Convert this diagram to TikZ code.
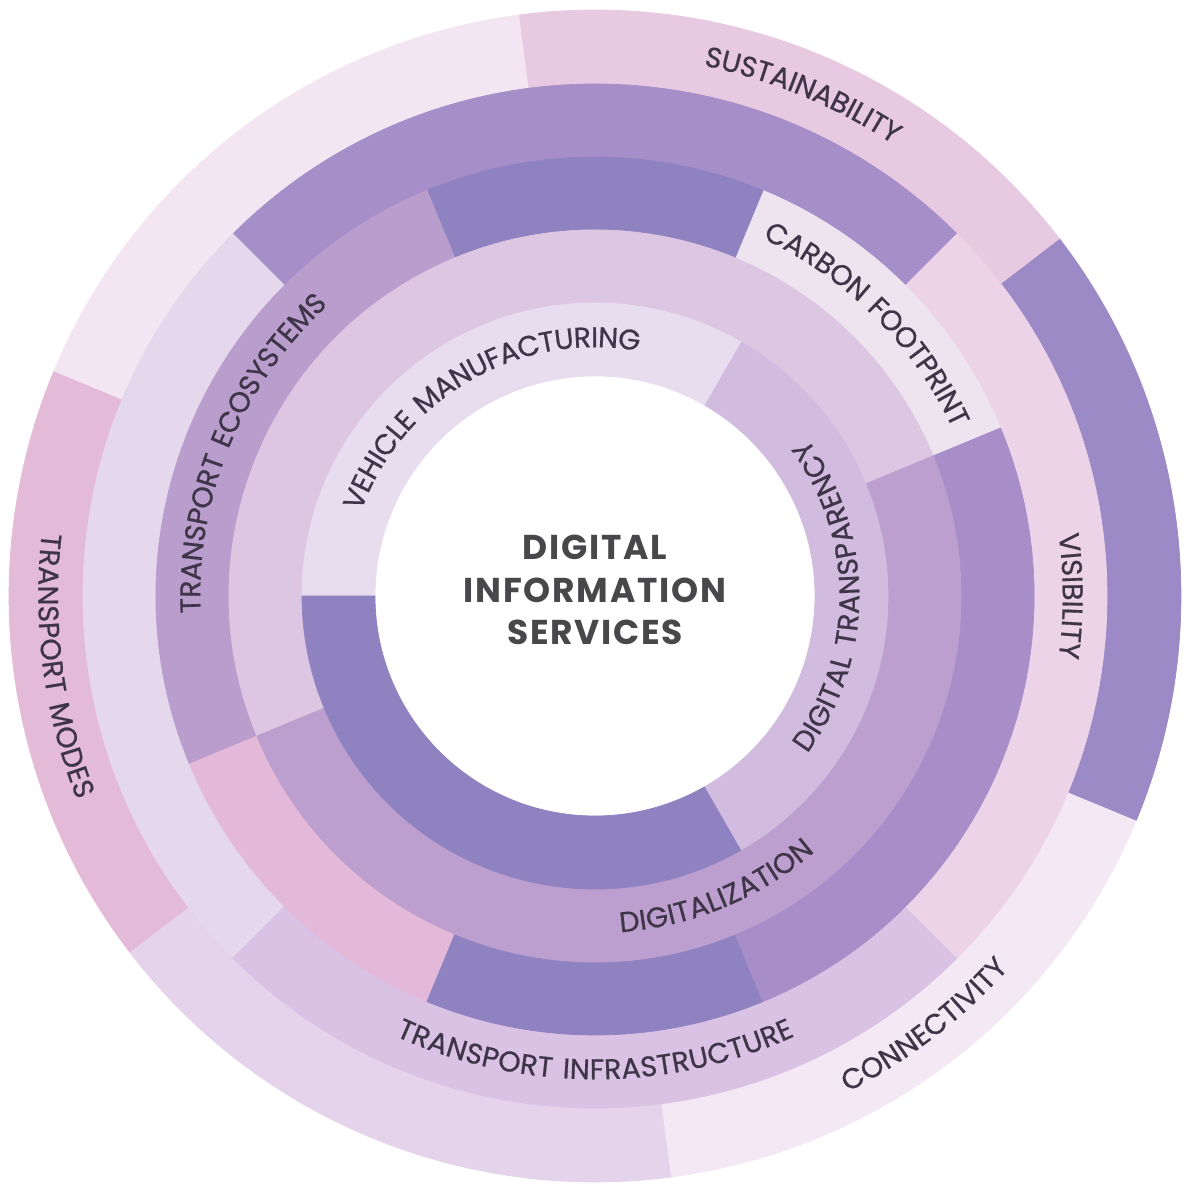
\documentclass[tikz,border=0pt]{standalone}
\usepackage{fontspec}
\setmainfont{Poppins}
\newfontfamily\ringfont[LetterSpace=9,FakeBold=0.7]{Poppins}
\newfontfamily\hubfont[LetterSpace=5]{Poppins}
\usetikzlibrary{decorations.text}

\definecolor{ink}{HTML}{3F3548}
\definecolor{hubink}{HTML}{48484A}
% outer ring
\definecolor{sustain}{HTML}{E7C9E1}
\definecolor{paleA}{HTML}{F3E6F2}
\definecolor{modes}{HTML}{E4BAD9}
\definecolor{lilacE}{HTML}{E4D3EB}
\definecolor{connect}{HTML}{F3E8F3}
\definecolor{visdark}{HTML}{9B8AC6}
% fourth ring
\definecolor{topband}{HTML}{A68EC8}
\definecolor{lilacD}{HTML}{E5D7EC}
\definecolor{infra}{HTML}{D9C2E3}
\definecolor{vispink}{HTML}{ECD3E8}
% third ring
\definecolor{deep}{HTML}{8F82C1}
\definecolor{ecosys}{HTML}{B89DCD}
\definecolor{rose}{HTML}{E3B8D8}
\definecolor{midpurple}{HTML}{A78EC9}
\definecolor{carbon}{HTML}{EEE4F0}
% second ring
\definecolor{lilacB}{HTML}{DDC6E2}
\definecolor{digi}{HTML}{BC9FCE}
% inner ring
\definecolor{vehicle}{HTML}{E8DDEF}
\definecolor{transp}{HTML}{D1BBDF}

% ring segment: start angle, end angle, inner radius, outer radius, colour
\newcommand{\ringseg}[5]{%
  \filldraw[fill=#5,draw=#5,line width=0.2pt] (#1:#3) arc[start angle=#1,end angle=#2,radius=#3]
    -- (#2:#4) arc[start angle=#2,end angle=#1,radius=#4] -- cycle;}

\begin{document}
\begin{tikzpicture}[
    ringlabel/.style={decorate,decoration={text along path,text align=center,raise=-2.2pt,
      text={|\ringfont\fontsize{8.1}{9}\selectfont\color{ink}|#1}}}]
  \useasboundingbox (-5.95,-5.91) rectangle (5.97,5.96);

  % outer ring
  \foreach \a/\b/\c in {37.5/97.5/sustain, 97.5/157.5/paleA, 157.5/217.5/modes,
                        217.5/277.5/lilacE, 277.5/337.5/connect, 337.5/397.5/visdark}
    {\ringseg{\a}{\b}{5.12}{5.86}{\c}}
  % fourth ring
  \foreach \a/\b/\c in {45/135/topband, 135/225/lilacD, 225/315/infra, 315/405/vispink}
    {\ringseg{\a}{\b}{4.39}{5.12}{\c}}
  % third ring
  \foreach \a/\b/\c in {22.5/67.5/carbon, 67.5/112.5/deep, 112.5/202.5/ecosys,
                        202.5/247.5/rose, 247.5/292.5/deep, 292.5/382.5/midpurple}
    {\ringseg{\a}{\b}{3.66}{4.39}{\c}}
  % second ring
  \foreach \a/\b/\c in {22.5/202.5/lilacB, 202.5/382.5/digi}
    {\ringseg{\a}{\b}{2.93}{3.66}{\c}}
  % inner ring
  \foreach \a/\b/\c in {60/180/vehicle, 180/300/deep, 300/420/transp}
    {\ringseg{\a}{\b}{2.20}{2.93}{\c}}

  % labels, clockwise ones read with tops outward
  \path[ringlabel={SUSTAINABILITY}] (97.5:5.49) arc[start angle=97.5,end angle=37.5,radius=5.49];
  \path[ringlabel={VISIBILITY}] (45:4.755) arc[start angle=45,end angle=-45,radius=4.755];
  \path[ringlabel={CARBON FOOTPRINT}] (85:4.025) arc[start angle=85,end angle=5,radius=4.025];
  \path[ringlabel={TRANSPORT ECOSYSTEMS}] (225:4.025) arc[start angle=225,end angle=90,radius=4.025];
  \path[ringlabel={VEHICLE MANUFACTURING}] (210:2.565) arc[start angle=210,end angle=30,radius=2.565];
  % counter-clockwise ones read with tops inward
  \path[ringlabel={CONNECTIVITY}] (-87.5:5.49) arc[start angle=-87.5,end angle=-17.5,radius=5.49];
  \path[ringlabel={TRANSPORT MODES}] (140:5.49) arc[start angle=140,end angle=235,radius=5.49];
  \path[ringlabel={TRANSPORT INFRASTRUCTURE}] (210:4.755) arc[start angle=210,end angle=330,radius=4.755];
  \path[ringlabel={DIGITALIZATION}] (242.5:3.295) arc[start angle=242.5,end angle=342.5,radius=3.295];
  \path[ringlabel={DIGITAL TRANSPARENCY}] (-75:2.565) arc[start angle=-75,end angle=75,radius=2.565];

  \node[align=center,text=hubink,font=\hubfont\bfseries\fontsize{9.8}{12}\selectfont]
    (hub) at (0,0.06) {DIGITAL\\INFORMATION\\SERVICES};
\end{tikzpicture}
\end{document}
